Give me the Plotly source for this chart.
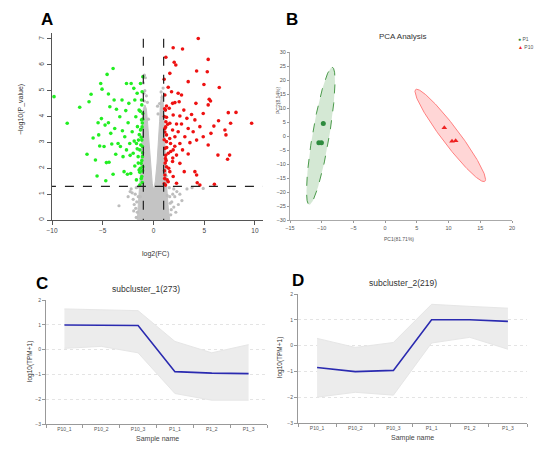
import numpy as np
import plotly.graph_objects as go

# page offset of the plot div (browser body margin) and figure size
OFF = 8
W, H = 550 - OFF, 457 - OFF

# ---------------- Panel A: volcano data ----------------
green_x = [-9.8, -8.5, -7.27, -6.55, -6.15, -6.35, -5.95, -5.72, -5.56, -5.46, -5.4, -5.3, -5.2, -5.07,
           -5.13, -4.87, -4.77, -4.7, -4.64, -4.57, -4.44, -4.44, -4.38, -4.3, -4.21, -4.11, -3.98, -3.98,
           -3.88, -3.82, -3.72, -3.65, -3.49, -3.32, -3.26, -3.1, -3.06, -3.0, -2.9, -2.83, -2.73, -2.66,
           -2.66, -2.57, -2.5, -2.43, -2.34, -2.2, -2.24, -2.1, -2.0, -1.94, -1.84, -1.84, -1.74, -1.68,
           -1.68, -1.61, -1.58, -1.51, -1.48, -1.42, -1.42, -1.35, -1.35, -1.28, -1.28, -1.22, -1.18, -1.18,
           -1.15, -1.15, -1.12, -1.09, -1.09, -1.05, -1.05, -1.05, -1.1, -1.2, -1.3, -1.15, -1.08, -1.25,
           -1.4, -1.12, -1.06, -1.3, -1.5, -1.2, -1.1, -1.07, -1.35, -1.6, -1.9, -2.3, -1.15, -1.25]
green_y = [4.77, 3.74, 4.36, 2.54, 4.86, 4.57, 3.17, 2.32, 1.70, 3.76, 3.29, 2.86, 5.28, 5.06,
           3.92, 2.84, 3.67, 1.52, 2.22, 5.63, 4.87, 3.76, 2.23, 4.38, 3.35, 2.94, 5.86, 1.77,
           4.64, 3.54, 2.54, 4.28, 2.96, 3.99, 2.84, 4.64, 3.45, 2.45, 1.87, 3.22, 4.23, 5.28,
           2.71, 1.77, 3.76, 4.51, 2.96, 5.28, 1.80, 3.41, 2.58, 5.09, 4.64, 2.09, 3.99, 2.96,
           1.55, 4.90, 3.61, 2.45, 3.09, 1.93, 4.25, 1.35, 2.71, 5.28, 3.48, 2.19, 4.64, 3.87,
           3.09, 1.68, 4.96, 2.45, 2.84, 4.12, 2.06, 5.54, 1.45, 1.6, 2.0, 2.3, 2.6, 2.9, 3.3,
           3.6, 3.9, 4.2, 2.2, 3.2, 3.75, 1.9, 1.85, 2.75, 3.05, 2.5, 4.45, 3.5]

red_x = [4.41, 1.94, 2.86, 5.39, 1.22, 2.04, 2.20, 1.61, 4.25, 5.30, 1.05, 3.42, 1.45, 4.97, 6.48,
         1.78, 1.12, 2.43, 2.76, 5.49, 5.62, 1.88, 1.28, 2.11, 2.53, 4.18, 5.39, 1.18, 1.55, 2.99,
         7.37, 8.13, 4.90, 1.94, 2.60, 3.75, 1.28, 3.29, 6.41, 4.08, 7.6, 9.67, 1.22, 1.61, 2.27,
         2.76, 4.57, 5.95, 7.04, 1.12, 1.88, 2.43, 3.42, 3.91, 5.66, 7.14, 1.28, 2.11, 3.09, 4.90,
         4.25, 1.28, 1.68, 2.60, 3.59, 5.39, 1.12, 1.94, 2.86, 1.45, 2.27, 3.42, 6.35, 7.5, 7.30,
         1.18, 1.88, 2.60, 1.28, 1.61, 3.03, 4.08, 4.25, 1.12, 1.94, 1.45, 4.31, 1.18, 4.57, 6.0,
         2.27, 1.05, 1.1, 1.08, 1.15, 1.2, 1.3, 1.06, 1.12, 1.4, 1.5, 1.25, 1.07, 1.35, 1.7, 1.6,
         1.9, 2.1, 1.1, 1.2]
red_y = [7.02, 6.66, 6.61, 6.21, 6.29, 6.10, 5.99, 5.67, 5.76, 5.73, 5.44, 5.35, 5.13, 5.24, 5.12,
         4.96, 4.83, 4.90, 4.83, 4.67, 4.60, 4.51, 4.41, 4.54, 4.57, 4.51, 4.45, 4.25, 4.32, 4.25,
         4.15, 4.16, 4.12, 4.06, 4.02, 4.08, 3.97, 3.93, 3.84, 3.87, 3.74, 3.74, 3.80, 3.74, 3.71,
         3.71, 3.61, 3.63, 3.48, 3.54, 3.48, 3.41, 3.54, 3.41, 3.35, 3.29, 3.29, 3.22, 3.22, 3.22,
         3.09, 3.03, 2.96, 2.96, 2.99, 2.90, 2.77, 2.71, 2.71, 2.58, 2.51, 2.55, 2.51, 2.51, 2.35,
         2.38, 2.26, 2.19, 2.06, 1.87, 1.87, 1.87, 1.74, 1.74, 1.68, 1.48, 1.44, 1.35, 1.35, 1.38,
         1.42, 1.4, 1.6, 1.9, 2.2, 2.5, 2.8, 3.1, 3.4, 3.7, 2.0, 2.3, 4.0, 1.55, 2.65, 3.15,
         2.4, 2.85, 4.3, 3.6]

# dense grey core outline (V-shaped cloud of non-significant genes)
grey_core_x = [-1.6, -1.5, -1.38, -1.25, -1.15, -1.08, -1.0, -0.85, -0.7, -0.55, -0.42, -0.28, -0.12,
               0.02, 0.18, 0.35, 0.5, 0.6, 0.68, 0.8, 0.95, 1.02, 1.1, 1.2, 1.32, 1.45, 1.6]
grey_core_y = [0.0, 0.5, 1.2, 2.0, 3.0, 3.8, 4.3, 4.45, 4.3, 3.6, 2.8, 2.0, 1.4,
               1.15, 1.5, 2.2, 3.0, 3.8, 4.5, 4.85, 4.6, 3.9, 3.0, 2.0, 1.2, 0.5, 0.0]
grey_x = [-0.9, -0.8, -1.0, -0.85, -0.7, -0.9, -0.6, -0.95, 0.85, 0.75, 0.6, 0.95, 0.4,
          -3.4, -2.3, -2.0, -1.8, -1.9, -2.5, -1.7, -2.2, 2.0, 2.3, 2.6, 1.8, 2.0, 2.2, 3.3,
          3.8, 4.9, 1.9, 2.8, -1.6, 1.7, -1.7, 1.6, -1.5, -1.75, 1.75, -2.1, 2.45, -1.65, 1.65,
          -1.1, -1.2, 1.15, 1.25, -0.5, 0.45, -1.3, 1.35, 2.1, -1.95, 1.55, -1.55]
grey_y = [5.6, 5.5, 5.3, 5.0, 4.8, 4.6, 4.55, 4.9, 4.75, 4.95, 4.5, 5.1, 4.4,
          0.55, 1.1, 0.8, 1.0, 0.6, 0.9, 1.25, 1.2, 1.2, 1.1, 1.0, 0.7, 0.5, 0.3, 1.2,
          1.25, 1.22, 1.0, 0.75, 0.3, 0.2, 0.1, 0.9, 0.9, 0.45, 0.4, 1.05, 0.6, 0.7, 0.65,
          2.4, 1.6, 2.2, 1.7, 3.9, 4.1, 0.9, 0.95, 0.9, 0.35, 1.25, 1.28]
fc_cut = [-1, 1]
p_cut = 1.30

# ---------------- Panel B: PCA ----------------
p1_x = [-9.75, -10.45, -10.05]
p1_y = [4.5, -2.4, -2.4]
p10_x = [9.33, 10.54, 11.12]
p10_y = [2.96, -1.9, -1.67]
# ellipse parameters: centre, half-axis vector u, conjugate half vector v
ell_p1 = dict(cx=-10.15, cy=0.0, ux=1.8, uy=24.55, vx=1.35, vy=0.0)
ell_p10 = dict(cx=10.27, cy=0.2, ux=-5.3, uy=16.5, vx=1.7, vy=0.0)
legend_names = ["P1", "P10"]

# ---------------- Panels C/D: clusters ----------------
samples = ["P10_1", "P10_2", "P10_3", "P1_1", "P1_2", "P1_3"]
c_mean = [0.99, 0.97, 0.97, -0.89, -0.95, -0.97]
c_upper = [1.64, 1.6, 1.57, 0.33, -0.13, 0.2]
c_lower = [0.05, 0.13, -0.13, -1.77, -2.04, -2.04]
d_mean = [-0.85, -1.01, -0.96, 1.0, 1.0, 0.94]
d_upper = [0.28, -0.07, 0.12, 1.6, 1.52, 1.45]
d_lower = [-2.0, -1.81, -1.92, 0.1, 0.32, -0.14]

FONT = "Liberation Sans, Arial, sans-serif"
fig = go.Figure()


def dxp(a, b):
    return [(a - OFF) / W, (b - OFF) / W]


def dyp(top, bottom):
    return [1 - (bottom - OFF) / H, 1 - (top - OFF) / H]


# --- A traces
fig.add_trace(go.Scatter(x=grey_core_x, y=grey_core_y, fill="toself", fillcolor="#c4c4c4",
                         line=dict(color="#c4c4c4", width=1), mode="lines", showlegend=False,
                         xaxis="x", yaxis="y"))
fig.add_trace(go.Scatter(x=grey_x, y=grey_y, mode="markers", marker=dict(color="#bdbdbd", size=3.2),
                         showlegend=False, xaxis="x", yaxis="y"))
fig.add_trace(go.Scatter(x=green_x, y=green_y, mode="markers", marker=dict(color="#22ee22", size=3.6),
                         showlegend=False, xaxis="x", yaxis="y"))
fig.add_trace(go.Scatter(x=red_x, y=red_y, mode="markers", marker=dict(color="#ee1111", size=3.6),
                         showlegend=False, xaxis="x", yaxis="y"))
for v in fc_cut:
    fig.add_trace(go.Scatter(x=[v, v], y=[-0.3, 7.3], mode="lines",
                             line=dict(color="#222", width=1.2, dash="dash"),
                             showlegend=False, xaxis="x", yaxis="y"))
fig.add_trace(go.Scatter(x=[-10.5, 11], y=[p_cut, p_cut], mode="lines",
                         line=dict(color="#222", width=1.2, dash="dash"),
                         showlegend=False, xaxis="x", yaxis="y"))

# --- B traces
t = np.linspace(0, 2 * np.pi, 200)
for e, fc, lc, dash in [(ell_p1, "rgba(60,150,60,0.22)", "#4a9a4a", "dash"),
                        (ell_p10, "rgba(255,90,90,0.25)", "#ff8080", "solid")]:
    ex = e["cx"] + e["ux"] * np.cos(t) + e["vx"] * np.sin(t)
    ey = e["cy"] + e["uy"] * np.cos(t) + e["vy"] * np.sin(t)
    fig.add_trace(go.Scatter(x=ex, y=ey, fill="toself", fillcolor=fc, mode="lines",
                             line=dict(color=lc, width=1, dash=dash), showlegend=False,
                             xaxis="x2", yaxis="y2"))
fig.add_trace(go.Scatter(x=p1_x, y=p1_y, mode="markers", name="P1", showlegend=False,
                         marker=dict(color="#2e8b3e", size=5, symbol="circle"),
                         xaxis="x2", yaxis="y2"))
fig.add_trace(go.Scatter(x=p10_x, y=p10_y, mode="markers", name="P10", showlegend=False,
                         marker=dict(color="#ee2222", size=5, symbol="triangle-up"),
                         xaxis="x2", yaxis="y2"))

# --- C/D traces
for (up, lo, mean, ax, ay) in [(c_upper, c_lower, c_mean, "x3", "y3"),
                               (d_upper, d_lower, d_mean, "x4", "y4")]:
    fig.add_trace(go.Scatter(x=samples, y=up, mode="lines", line=dict(color="#e6e6e6", width=1),
                             showlegend=False, xaxis=ax, yaxis=ay))
    fig.add_trace(go.Scatter(x=samples, y=lo, mode="lines", line=dict(color="#e6e6e6", width=1),
                             fill="tonexty", fillcolor="#ececec", showlegend=False, xaxis=ax, yaxis=ay))
    fig.add_trace(go.Scatter(x=samples, y=mean, mode="lines", line=dict(color="#2a2ab0", width=1.6),
                             showlegend=False, xaxis=ax, yaxis=ay))

tickf = dict(family=FONT, size=6.5, color="#444")
smallf = dict(family=FONT, size=5, color="#555")

layout = dict(
    width=W, height=H, margin=dict(l=0, r=0, t=0, b=0, autoexpand=False),
    paper_bgcolor="white", plot_bgcolor="white", font=dict(family=FONT), showlegend=False,
    # A
    xaxis=dict(domain=dxp(52, 263), range=[-10, 10.79], tickvals=[-10, -5, 0, 5, 10],
               ticktext=["\u221210", "\u22125", "0", "5", "10"], ticks="outside", ticklen=4,
               tickcolor="#555", showline=True, linecolor="#555", linewidth=1, showgrid=False,
               zeroline=False, tickfont=tickf, anchor="y", automargin=False),
    yaxis=dict(domain=dyp(33, 220), range=[0, 7.23], tickvals=list(range(8)), ticks="outside", ticklen=4,
               tickcolor="#555", showline=True, linecolor="#555", linewidth=1, showgrid=False,
               zeroline=False, tickfont=tickf, tickangle=-90, anchor="x", automargin=False),
    # B
    xaxis2=dict(domain=dxp(290, 512), range=[-15, 20], dtick=5, ticks="outside", ticklen=2,
                tickcolor="#999", showline=True, linecolor="#aaa", linewidth=1, showgrid=False,
                zeroline=False, tickfont=dict(family=FONT, size=5.5, color="#555"), anchor="y2",
                automargin=False),
    yaxis2=dict(domain=dyp(52, 220), range=[-30, 30], dtick=5, ticks="outside", ticklen=2,
                tickcolor="#999", showline=True, linecolor="#aaa", linewidth=1, showgrid=False,
                zeroline=False, tickfont=dict(family=FONT, size=5.5, color="#555"), anchor="x2",
                automargin=False),
    # C
    xaxis3=dict(domain=dxp(46, 267), type="category", range=[-0.5, 5.5], ticks="outside", ticklen=3,
                tickson="boundaries", tickcolor="#999", showline=True, linecolor="#999", showgrid=False,
                tickfont=smallf, anchor="y3", automargin=False),
    yaxis3=dict(domain=dyp(300, 424), range=[-3, 2], dtick=1, ticks="outside", ticklen=3,
                tickcolor="#999", showline=True, linecolor="#999", showgrid=True, gridcolor="#e4e4e4",
                griddash="dot", zeroline=False, tickfont=smallf, anchor="x3", automargin=False),
    # D
    xaxis4=dict(domain=dxp(298, 527), type="category", range=[-0.5, 5.5], ticks="outside", ticklen=3,
                tickson="boundaries", tickcolor="#999", showline=True, linecolor="#999", showgrid=False,
                tickfont=smallf, anchor="y4", automargin=False),
    yaxis4=dict(domain=dyp(294, 423), range=[-3, 2], dtick=1, ticks="outside", ticklen=3,
                tickcolor="#999", showline=True, linecolor="#999", showgrid=True, gridcolor="#e4e4e4",
                griddash="dot", zeroline=False, tickfont=smallf, anchor="x4", automargin=False),
)
fig.update_layout(**layout)


def ann(x, y, text, size, color="#333", angle=0, bold=False, xanchor="center"):
    fig.add_annotation(x=(x - OFF) / W, y=1 - (y - OFF) / H, xref="paper", yref="paper",
                       text=("<b>%s</b>" % text) if bold else text,
                       showarrow=False, textangle=angle, xanchor=xanchor, yanchor="middle",
                       font=dict(family=FONT, size=size, color=color))


ann(47, 19, "A", 17, "#000", bold=True)
ann(292, 19, "B", 17, "#000", bold=True)
ann(42, 283, "C", 17, "#000", bold=True)
ann(298, 280, "D", 17, "#000", bold=True)
ann(21, 110, "\u2212log10(P_value)", 7, "#333", angle=-90)
ann(155, 254, "log2(FC)", 7, "#333")
ann(403, 37, "PCA Analysis", 8, "#333")
ann(399, 239, "PC1(81.71%)", 5, "#555")
ann(278, 100, "PC2(8.14%)", 5, "#555", angle=-90)
ann(146, 289, "subcluster_1(273)", 8.5, "#333")
ann(403, 283, "subcluster_2(219)", 8.5, "#333")
ann(30, 362, "log10(TPM+1)", 6.5, "#333", angle=-90)
ann(280, 358, "log10(TPM+1)", 6.5, "#333", angle=-90)
ann(157, 439, "Sample name", 7, "#444")
ann(412, 438, "Sample name", 7, "#444")
# PCA legend (text entries with coloured symbols)
ann(516, 38.5, "<span style='color:#2e8b3e'>\u25cf</span> " + legend_names[0], 5, "#555", xanchor="left")
ann(516, 46.5, "<span style='color:#ee2222'>\u25b2</span> " + legend_names[1], 5, "#555", xanchor="left")

fig.write_html("out.html")
